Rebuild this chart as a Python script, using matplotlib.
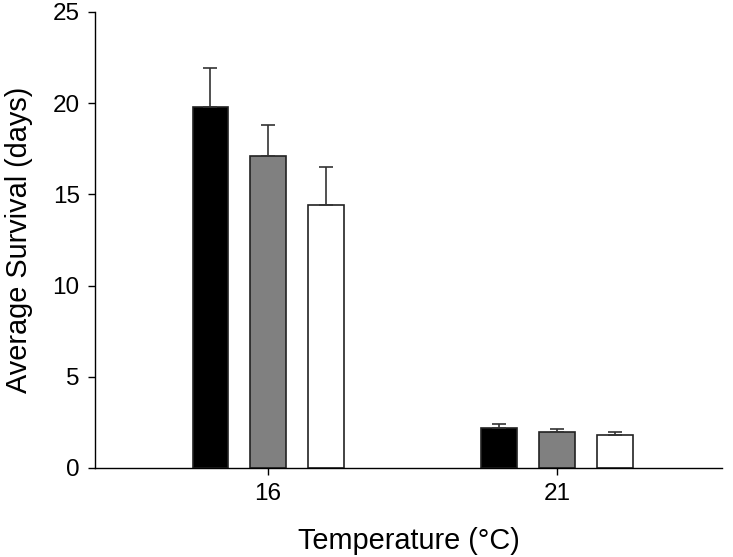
import matplotlib
matplotlib.use("Agg")
import matplotlib.pyplot as plt
import numpy as np

plt.rcParams['font.family'] = ['Liberation Sans', 'DejaVu Sans']

temps = ["16", "21"]
series_colors = ["#000000", "#808080", "#ffffff"]
black_vals = [19.8, 2.2]
gray_vals = [17.1, 2.0]
white_vals = [14.4, 1.8]
black_err = [2.14, 0.2]
gray_err = [1.72, 0.15]
white_err = [2.08, 0.17]

fig = plt.figure(figsize=(7.33, 5.57), dpi=100)
ax = fig.add_axes([0.1296, 0.1598, 0.8554, 0.8187])

x = np.arange(len(temps))
width = 0.123
offsets = [-0.2, 0.0, 0.2]
vals = [black_vals, gray_vals, white_vals]
errs = [black_err, gray_err, white_err]
for off, v, e, c in zip(offsets, vals, errs, series_colors):
    ax.bar(x + off, v, width, color=c, edgecolor="#222222", linewidth=1.2,
           yerr=[np.zeros(len(e)), e], capsize=5,
           error_kw=dict(ecolor="#333333", elinewidth=1.2, capthick=1.2), zorder=2)

ax.set_xlim(-0.599, 1.571)
ax.set_ylim(0, 25)
ax.set_xticks(x)
ax.set_xticklabels(temps)
ax.set_yticks([0, 5, 10, 15, 20, 25])
ax.spines['top'].set_visible(False)
ax.spines['right'].set_visible(False)
for s in ['left', 'bottom']:
    ax.spines[s].set_linewidth(1.0)
ax.tick_params(axis='both', direction='out', length=5, width=1.0, labelsize=17.5, pad=6)
ax.set_xlabel("Temperature (°C)", fontsize=20.8, labelpad=16)
ax.set_ylabel("Average Survival (days)", fontsize=20.8, labelpad=14)

fig.savefig("out.png", dpi=100)
